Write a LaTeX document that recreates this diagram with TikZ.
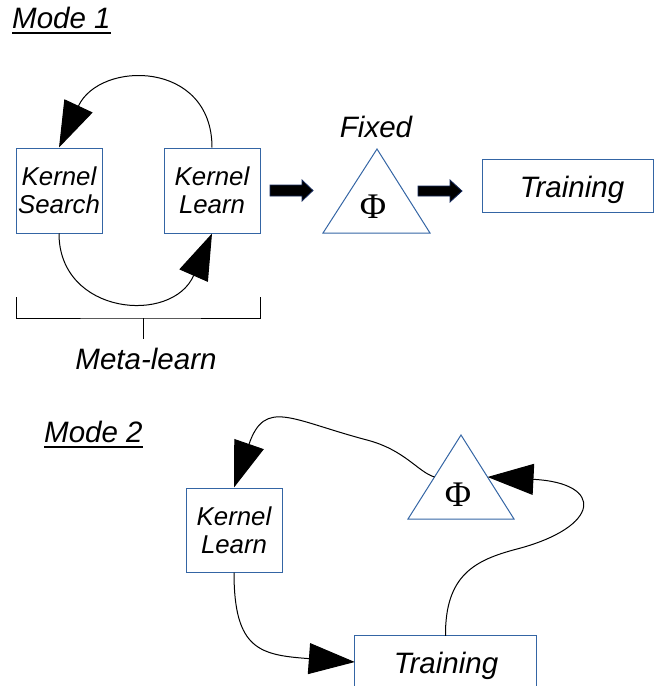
\documentclass[tikz,border=0pt]{standalone}
\usepackage{fontspec}
\setmainfont{Liberation Sans}
\newfontfamily\phifont{Liberation Serif}
\usetikzlibrary{arrows.meta,calc}
\definecolor{boxblue}{RGB}{52,101,164}
\definecolor{navyline}{RGB}{20,40,90}
\begin{document}
\begin{tikzpicture}[x=1pt,y=-1pt,
  box/.style={draw=boxblue, line width=1pt, rectangle, inner sep=0pt, align=center,
    font=\fontsize{25.8}{28}\selectfont\itshape},
  plainbox/.style={rectangle, inner sep=0pt},
  lbl/.style={inner sep=0pt, font=\fontsize{29.5}{32}\selectfont\itshape},
  phi/.style={inner sep=0pt, font=\fontsize{36}{38}\selectfont\phifont},
  conn/.style={line width=1pt, -{Triangle[length=46pt,width=31pt]}},
  tri/.style={draw=boxblue, line width=1pt},
  blockarrow/.style={fill=black, draw=navyline, line width=0.8pt},
  uline/.style={line width=1.4pt}
]
\useasboundingbox (0,0) rectangle (654,686);

% ---------- Mode 1 ----------
\node[lbl, anchor=base west] (m1) at (12,28) {Mode 1};
\draw[uline] ([yshift=-5pt]m1.base west) -- ([yshift=-5pt]m1.base east);

\node[box, minimum width=86pt, minimum height=85pt] (ks) at (59,190.5) {Kernel\\Search};
\node[box, minimum width=96pt, minimum height=85pt] (kl) at (212,190.5) {Kernel\\Learn};

\draw[conn] (kl.north) .. controls (212,60) and (100,60) .. (ks.north);
\draw[conn] (ks.south) .. controls (59,315) and (172,325) .. (kl.south);

% bracket
\coordinate (brL) at (16,297);
\coordinate (brR) at (260,297);
\coordinate (brM) at (143,318);
\coordinate (brT) at (143,339);
\draw[line width=1pt] (brL) |- (brM) -| (brR);
\draw[line width=1pt] (brM) -- (brT);
\node[lbl, anchor=base] (meta) at (146,369) {Meta-learn};

% block arrows
\draw[blockarrow] (270,185) -- (302,185) -- (302,180) -- (313,190.5) -- (302,201) -- (302,196) -- (270,196) -- cycle;
\draw[blockarrow] (418,186) -- (450,186) -- (450,180) -- (462,191) -- (450,202) -- (450,196) -- (418,196) -- cycle;

% triangle A
\coordinate (taL) at (323,233);
\coordinate (taR) at (430,233);
\coordinate (taA) at (377,149);
\draw[tri] (taL) -- (taR) -- (taA) -- cycle;
\node[phi] (phiA) at (373,207) {Φ};
\node[lbl, anchor=base] (fixed) at (376,137) {Fixed};

% training A
\node[plainbox, draw=boxblue, line width=1pt, minimum width=171pt, minimum height=53pt] (trA) at (567.5,185.5) {};
\node[lbl, anchor=base] (trAtxt) at (572,197) {Training};

% ---------- Mode 2 ----------
\node[lbl, anchor=base west] (m2) at (44,442) {Mode 2};
\draw[uline] ([yshift=-5pt]m2.base west) -- ([yshift=-5pt]m2.base east);

\node[box, minimum width=96pt, minimum height=84pt] (klB) at (234,530) {Kernel\\Learn};

% triangle B
\coordinate (tbL) at (408,519);
\coordinate (tbR) at (514,519);
\coordinate (tbA) at (461,435);
\draw[tri] (tbL) -- (tbR) -- (tbA) -- cycle;
\node[phi] (phiB) at (458,495) {Φ};
\coordinate (tbLeft) at ($(tbL)!0.5!(tbA)$);
\coordinate (tbRight) at ($(tbR)!0.5!(tbA)$);

% training B (bottom clipped)
\node[plainbox, minimum width=181pt, minimum height=52pt] (trB) at (445.5,662) {};
\draw[draw=boxblue, line width=1pt] (trB.south west) -- (trB.north west) -- (trB.north east) -- (trB.south east);
\node[lbl, anchor=base] (trBtxt) at (446,673) {Training};

\draw[conn] (tbLeft) .. controls (418,472) and (405,450) .. (367,440)
  .. controls (291,420) and (265,398) .. (klB.north);
\draw[conn] (klB.south) .. controls (234,650) and (260,655) .. (trB.west);
\draw[conn] (trB.north) .. controls (445,575) and (475,560) .. (517,549)
  .. controls (601,527) and (605,483) .. (tbRight);
\end{tikzpicture}
\end{document}
